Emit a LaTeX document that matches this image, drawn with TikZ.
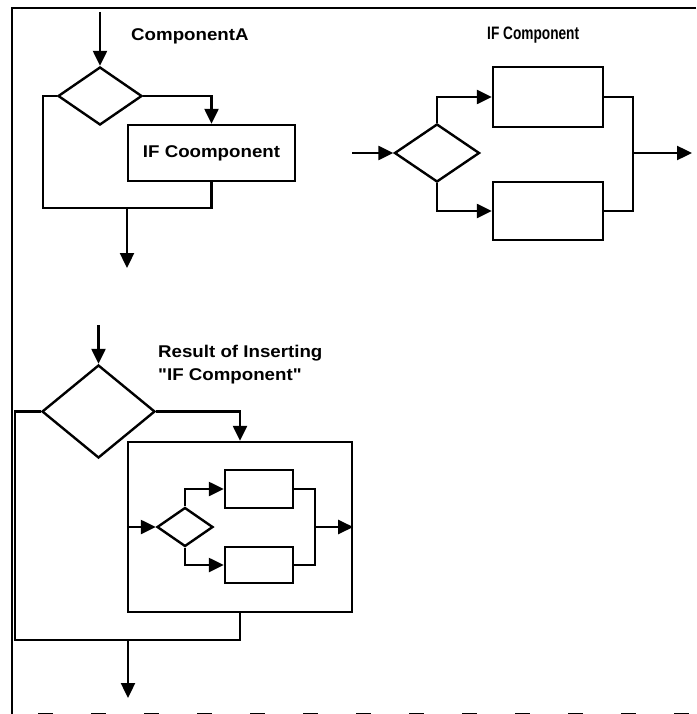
\documentclass[tikz,border=0pt]{standalone}
\usepackage{fontspec}
\newfontfamily\lblfont{Liberation Sans}[FakeStretch=1.1]
\newfontfamily\narrowlblfont{Liberation Sans}[FakeStretch=0.76]
\usetikzlibrary{shapes.geometric, arrows.meta, positioning, calc}

\begin{document}
\begin{tikzpicture}[
    x=1pt, y=-1pt,
    line width=2.4pt,
    decision/.style={draw, diamond, inner sep=0pt},
    block/.style={draw, rectangle, inner sep=0pt, font=\lblfont\bfseries\fontsize{17}{20}\selectfont},
    heading/.style={anchor=base west, inner sep=0pt, font=\lblfont\bfseries\fontsize{17}{20}\selectfont},
    arrow/.style={-{Triangle[length=15pt, width=14pt]}}
]
\useasboundingbox (0,0) rectangle (696,714);

% Frame
\draw[line width=2pt] (696,8) -- (12,8) -- (12,714);
\draw[dash pattern=on 15pt off 38pt, line width=3pt] (38,714) -- (696,714);

% ComponentA
\node[heading] (tA) at (130,41) {ComponentA};
\node[decision, minimum width=84pt, minimum height=58pt] (dA) at (100,96) {};
\node[block, minimum width=167pt, minimum height=56pt] (bA) at (211.5,153) {IF Coomponent};
\coordinate (inA) at (100,12);
\coordinate (lA) at (43,208);
\coordinate (outA) at (127,268);
\draw[arrow] (inA) -- (dA.north);
\draw[arrow] (dA.east) -| (bA.north);
\draw (dA.west) -| (lA) -- (lA -| bA.south) -- (bA.south);
\draw[arrow] (lA -| outA) -- (outA);

% IF Component
\node[heading, font=\narrowlblfont\bfseries\fontsize{18}{20}\selectfont] (tB) at (486,40) {IF Component};
\node[decision, minimum width=85pt, minimum height=58pt] (dB) at (437,153) {};
\node[block, minimum width=110pt, minimum height=60pt] (uB) at (548,97) {};
\node[block, minimum width=110pt, minimum height=58pt] (lB) at (548,211) {};
\coordinate (inB) at (352,153);
\coordinate (jB) at (633,153);
\coordinate (outB) at (692,153);
\draw[arrow] (inB) -- (dB.west);
\draw[arrow] (dB.north) |- (uB.west);
\draw[arrow] (dB.south) |- (lB.west);
\draw (uB.east) -| (jB) |- (lB.east);
\draw[arrow] (jB) -- (outB);

% Result of inserting
\node[heading] (rA) at (157,357) {Result of Inserting};
\node[heading] (rB) at (157,380) {"IF Component"};
\node[decision, minimum width=113pt, minimum height=93pt] (dC) at (98.5,411.5) {};
\node[block, minimum width=224pt, minimum height=170pt] (cC) at (240,527) {};
\node[decision, minimum width=56pt, minimum height=39pt] (dD) at (185,527) {};
\node[block, minimum width=68pt, minimum height=38pt] (uD) at (259,489) {};
\node[block, minimum width=68pt, minimum height=36pt] (lD) at (259,565) {};
\coordinate (inC) at (98.5,325);
\coordinate (lC) at (15,640);
\coordinate (jD) at (315,527);
\coordinate (outC) at (128,698);
\draw[arrow] (inC) -- (dC.north);
\draw[arrow] (dC.east) -| (cC.north);
\draw (dC.west) -| (lC) -- (lC -| cC.south) -- (cC.south);
\draw[arrow] (lC -| outC) -- (outC);
\draw[arrow] (cC.west) -- (dD.west);
\draw[arrow] (dD.north) |- (uD.west);
\draw[arrow] (dD.south) |- (lD.west);
\draw (uD.east) -| (jD) |- (lD.east);
\draw[arrow] (jD) -- (cC.east);

\end{tikzpicture}
\end{document}
